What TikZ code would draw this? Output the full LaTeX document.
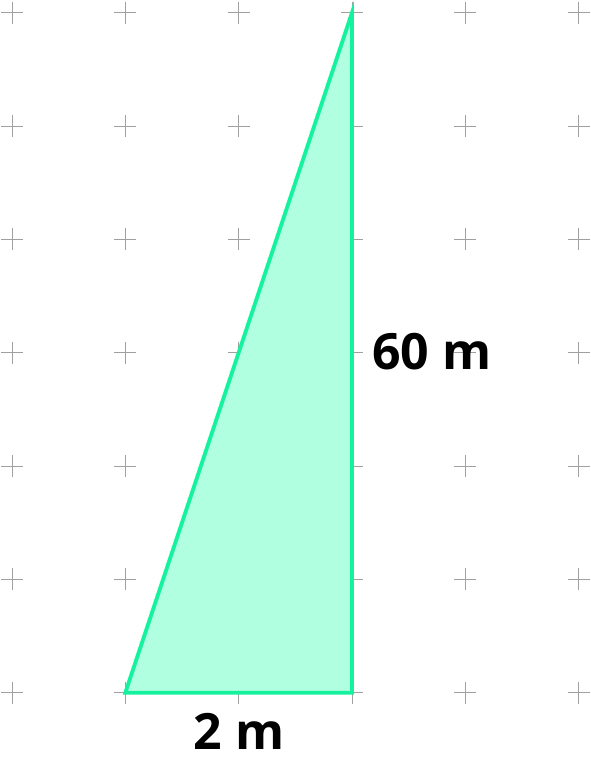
\documentclass[tikz,border=0pt]{standalone}
\usepackage{fontspec}
\setmainfont{Open Sans}
\definecolor{tri}{HTML}{14F29E}
\definecolor{trifill}{HTML}{B0FFE0}
\definecolor{gridc}{HTML}{A0A0A0}
\begin{document}
\begin{tikzpicture}[x=1pt,y=-1pt,
  crossmark/.style={draw=gridc,line width=0.9pt},
  lbl/.style={inner sep=0pt,anchor=base,font=\fontsize{50}{50}\selectfont\bfseries}]
\useasboundingbox (0,0) rectangle (591,764);
\foreach \i in {0,...,5}{
  \foreach \j in {0,...,6}{
    \pgfmathsetmacro{\cx}{12+113.35*\i}
    \pgfmathsetmacro{\cy}{12.7+113.35*\j}
    \draw[crossmark] (\cx-11,\cy) -- (\cx+11,\cy) (\cx,\cy-11) -- (\cx,\cy+11);
  }
}
\coordinate (A) at (125.3,692.7);
\coordinate (B) at (352,692.7);
\coordinate (C) at (352,12.7);
\draw[draw=tri,fill=trifill,line width=3.8pt,line join=miter] (A) -- (B) -- (C) -- cycle;
\node[lbl] (h) at (432,369.5) {60 m};
\node[lbl] (b) at (239,749.5) {2 m};
\end{tikzpicture}
\end{document}
